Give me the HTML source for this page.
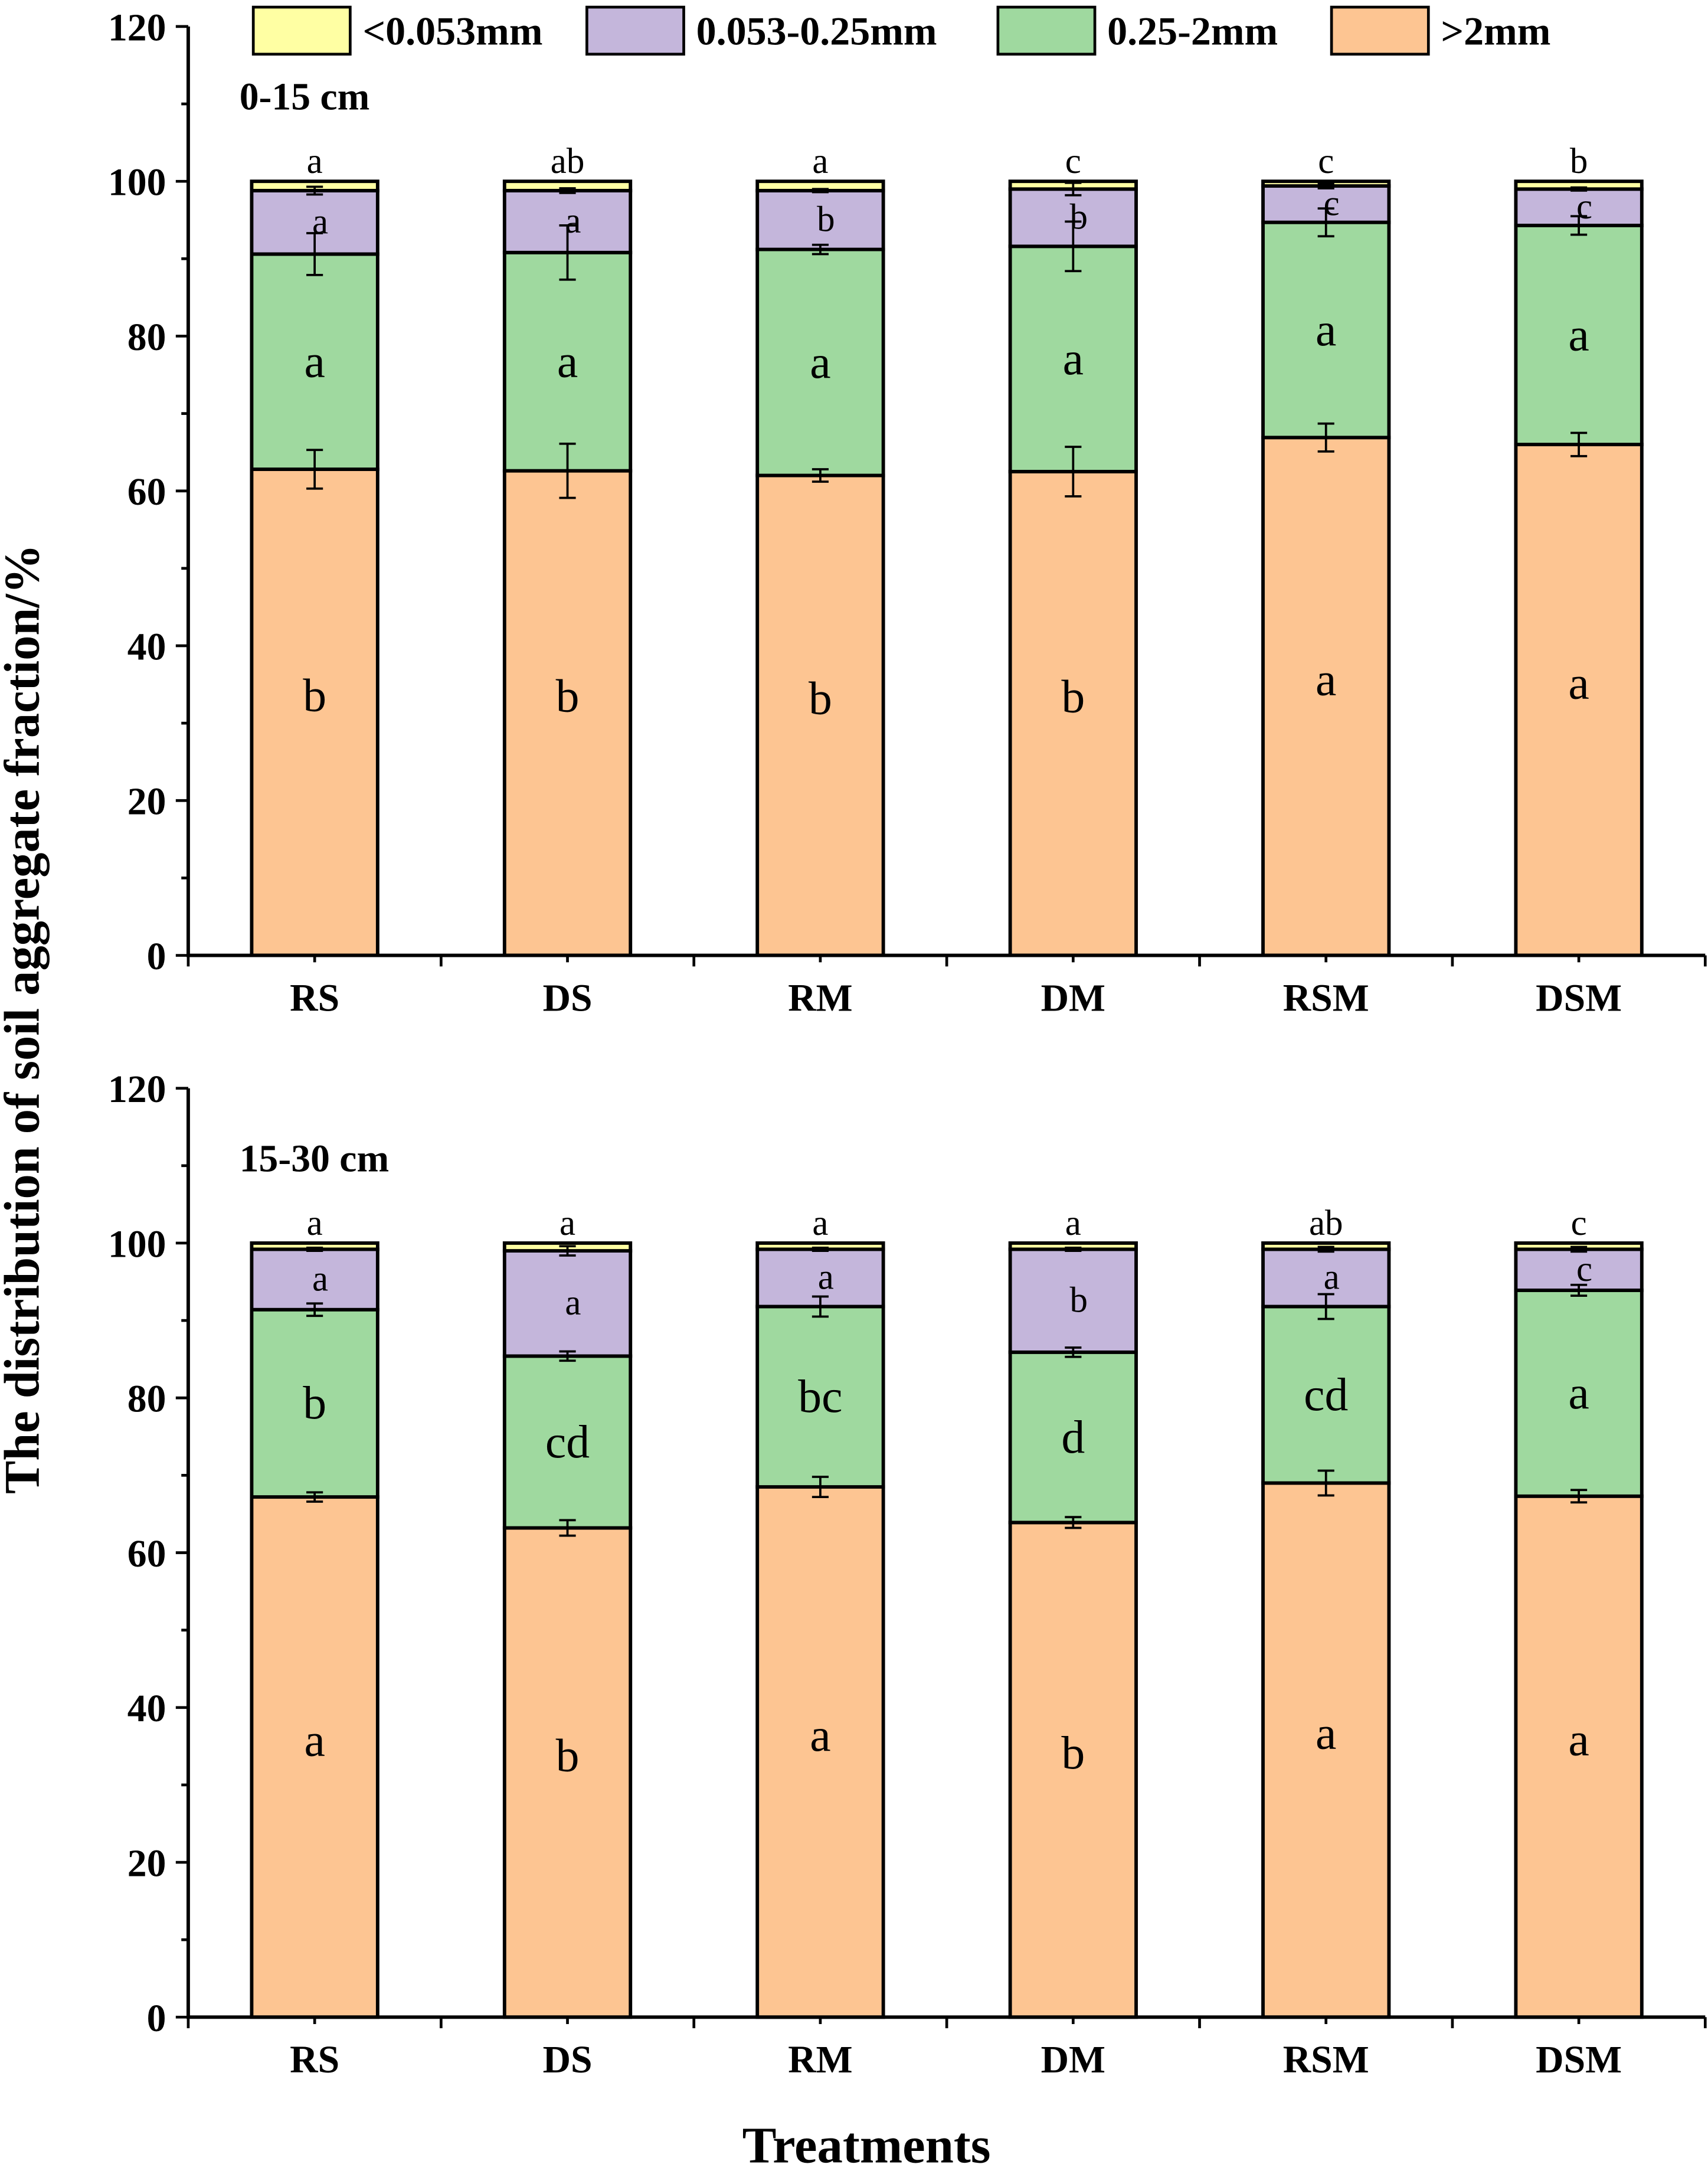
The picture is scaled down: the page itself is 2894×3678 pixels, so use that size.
<!DOCTYPE html>
<html><head><meta charset="utf-8"><style>
html,body{margin:0;padding:0;background:#fff}
svg{display:block}
text{font-family:"Liberation Serif",serif}
</style></head><body>
<svg id="chart" width="2894" height="3678" viewBox="0 0 1234 1568" xmlns="http://www.w3.org/2000/svg">
<g id="root"></g>
</svg>
<script>
const categories=["RS","DS","RM","DM","RSM","DSM"];
const seriesNames=["<0.053mm","0.053-0.25mm","0.25-2mm",">2mm"];
// top panel (0-15 cm): segment values, bottom to top
const topG2=[62.8,62.6,62.0,62.5,66.9,66.0];
const topM=[27.8,28.2,29.2,29.1,27.8,28.3];
const topS=[8.2,8.0,7.6,7.4,4.7,4.7];
const topC=[1.2,1.2,1.2,1.0,0.6,1.0];
const topErrG2=[2.5,3.5,0.8,3.2,1.8,1.5];
const topErrM=[2.7,3.5,0.6,3.2,1.8,1.2];
const topErrS=[0.5,0.3,0.2,0.8,0.3,0.2];
const topLetG2=["b","b","b","b","a","a"];
const topLetM=["a","a","a","a","a","a"];
const topLetS=["a","a","b","b","c","c"];
const topLetC=["a","ab","a","c","c","b"];
// bottom panel (15-30 cm)
const botG2=[67.2,63.2,68.5,63.9,69.0,67.3];
const botM=[24.2,22.2,23.3,22.0,22.8,26.6];
const botS=[7.8,13.6,7.4,13.3,7.4,5.3];
const botC=[0.8,1.0,0.8,0.8,0.8,0.8];
const botErrG2=[0.6,1.0,1.3,0.7,1.6,0.8];
const botErrM=[0.8,0.6,1.3,0.6,1.6,0.7];
const botErrS=[0.2,0.6,0.2,0.2,0.3,0.3];
const botLetG2=["a","b","a","b","a","a"];
const botLetM=["b","cd","bc","d","cd","a"];
const botLetS=["a","a","a","b","a","c"];
const botLetC=["a","a","a","a","ab","c"];
const yTicks=[0,20,40,60,80,100,120];

const NS="http://www.w3.org/2000/svg";
const root=document.getElementById("root");
function el(tag,attrs,parent,txt){const e=document.createElementNS(NS,tag);for(const k in attrs)e.setAttribute(k,attrs[k]);if(txt!==undefined)e.textContent=txt;(parent||root).appendChild(e);return e;}
const colors=["#FFFFA3","#C4B6DB","#9FD99F","#FDC592"];
const X0=136,X1=1232,bw=91;
function xc(i){return X0+(i+0.5)*(X1-X0)/categories.length;}

function panel(y0,label,G2,M,S,C,eG2,eM,eS,lG2,lM,lS,lC,pname){
  const g=el("g",{});
  
  
  const ys=v=>y0-v*671/120;
  categories.forEach((c,i)=>{
    const x=xc(i)-bw/2;
    const segs=[G2[i],M[i],S[i],C[i]];
    const cols=[colors[3],colors[2],colors[1],colors[0]];
    const names=["gt2mm","0.25-2mm","0.053-0.25mm","lt0.053mm"];
    let acc=0;
    segs.forEach((v,k)=>{
      const r=el("rect",{x:x,y:ys(acc+v),width:bw,height:ys(acc)-ys(acc+v),fill:cols[k],stroke:"#000","stroke-width":2.5},g);
      
      
      acc+=v;
    });
    const tops=[G2[i],G2[i]+M[i],G2[i]+M[i]+S[i]];
    const errs=[eG2[i],eM[i],eS[i]];
    tops.forEach((t,k)=>{
      const cx=xc(i),a=ys(t+errs[k]),b=ys(t-errs[k]);
      const eb=el("path",{d:`M${cx},${a}V${b}M${cx-6},${a}H${cx+6}M${cx-6},${b}H${cx+6}`,stroke:"#000","stroke-width":1.6,fill:"none"},g);
      
      
    });
    const lets=[[lG2[i],ys(G2[i]/2)-12],[lM[i],ys(G2[i]+M[i]/2)],[lS[i],ys(G2[i]+M[i]+S[i]/2)],[lC[i],ys(100)-6]];
    lets.forEach(([t,y],k)=>{
      const tx=el("text",{x:xc(i)+(k==2?4:0),y:y+(k==3?0:(k==2?8:11)),"font-size":k>=2?26:34,"text-anchor":"middle"},g,t);
      
      
    });
    const xl=el("text",{x:xc(i),y:y0+40,"font-size":28,"font-weight":"bold","text-anchor":"middle"},g,c);
    
    
  });
  const ax=el("path",{d:`M${X0},${ys(120)}V${y0}H${X1}`,stroke:"#000","stroke-width":2.5,fill:"none"},g);
  
  
  for(let v=0;v<=120;v+=10){
    const major=v%20===0;
    el("line",{x1:X0,x2:X0-(major?9:5),y1:ys(v),y2:ys(v),stroke:"#000","stroke-width":2},g);
  }
  yTicks.forEach(v=>{
    const t=el("text",{x:X0-16,y:ys(v)+10,"font-size":28,"font-weight":"bold","text-anchor":"end"},g,v);
    
    
  });
  for(let i=0;i<=categories.length;i++){
    const x=X0+i*(X1-X0)/categories.length;
    el("line",{x1:x,x2:x,y1:y0,y2:y0+8,stroke:"#000","stroke-width":2},g);
  }
  for(let i=0;i<categories.length;i++){
    el("line",{x1:xc(i),x2:xc(i),y1:y0,y2:y0+5,stroke:"#000","stroke-width":2},g);
  }
  const pl=el("text",{x:173,y:ys(120)+60,"font-size":28,"font-weight":"bold"},g,label);
  
  
}
panel(690,"0-15 cm",topG2,topM,topS,topC,topErrG2,topErrM,topErrS,topLetG2,topLetM,topLetS,topLetC,"panel-0-15cm");
panel(1457,"15-30 cm",botG2,botM,botS,botC,botErrG2,botErrM,botErrS,botLetG2,botLetM,botLetS,botLetC,"panel-15-30cm");

const lg=el("g",{});


const lx=[183,424,721,962];
seriesNames.forEach((n,k)=>{
  const r=el("rect",{x:lx[k],y:5,width:70,height:34,fill:colors[k],stroke:"#000","stroke-width":2},lg);
  
  
  const t=el("text",{x:lx[k]+79,y:32,"font-size":29,"font-weight":"bold"},lg,n);
  
  
});
const yt=el("text",{x:0,y:0,"font-size":36,"font-weight":"bold","text-anchor":"middle",transform:"translate(28,736) rotate(-90)"},root,"The distribution of soil aggregate fraction/%");


const xt=el("text",{x:626,y:1562,"font-size":37,"font-weight":"bold","text-anchor":"middle"},root,"Treatments");


</script>
</body></html>
